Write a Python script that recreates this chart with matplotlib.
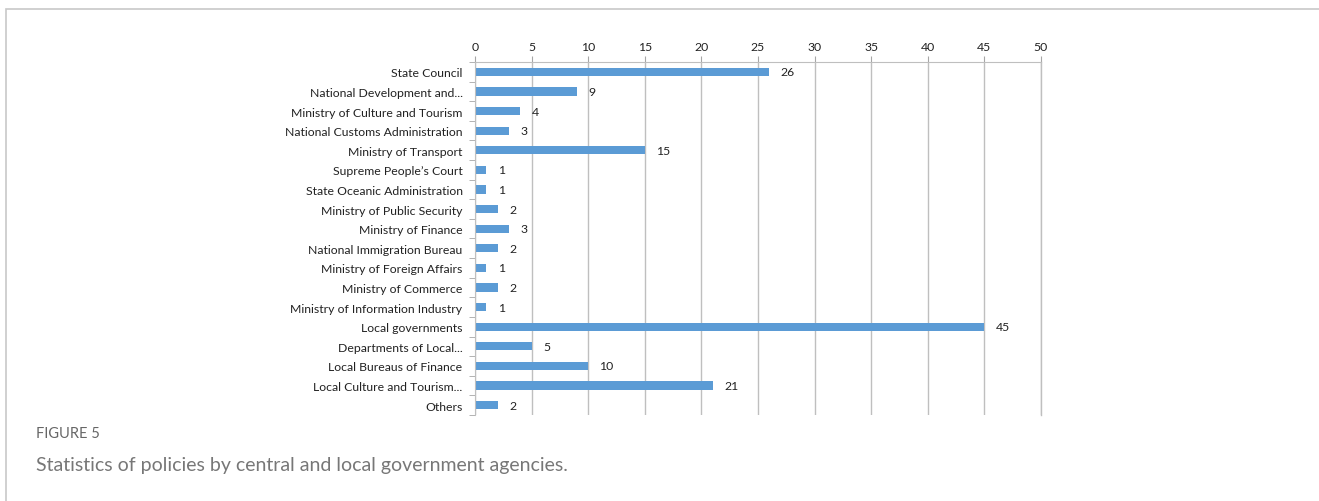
import matplotlib.pyplot as plt
from matplotlib.patches import Rectangle

agencies = ["State Council", "National Development and...", "Ministry of Culture and Tourism",
            "National Customs Administration", "Ministry of Transport", "Supreme People\u2019s Court",
            "State Oceanic Administration", "Ministry of Public Security", "Ministry of Finance",
            "National Immigration Bureau", "Ministry of Foreign Affairs", "Ministry of Commerce",
            "Ministry of Information Industry", "Local governments", "Departments of Local...",
            "Local Bureaus of Finance", "Local Culture and Tourism...", "Others"]
counts = [26, 9, 4, 3, 15, 1, 1, 2, 3, 2, 1, 2, 1, 45, 5, 10, 21, 2]
xticks = list(range(0, 55, 5))

plt.rcParams['font.family'] = ['Lato', 'DejaVu Sans']

fig = plt.figure(figsize=(13.19, 5.02), dpi=100)
W, H = 1319, 502

# outer frame of the figure panel
fig.patches.append(Rectangle((6 / W, -0.1), 1.2, 1 - 9.5 / H + 0.1, transform=fig.transFigure,
                             fill=False, edgecolor='#c8c8c8', linewidth=1.2))

ax = fig.add_axes([475 / W, 1 - 416 / H, (1041 - 475) / W, (416 - 63) / H])
ypos = list(range(len(agencies)))
ax.barh(ypos, counts, height=0.42, color='#5b9bd5')
for y, v in zip(ypos, counts):
    ax.text(v + 1.0, y, str(v), va='center', ha='left', fontsize=8.8, color='#222222')

ax.set_xlim(0, 50)
ax.set_ylim(len(agencies) - 0.5, -0.5)
ax.set_xticks(xticks)
ax.xaxis.tick_top()
ax.tick_params(axis='x', length=4, color='#a6a6a6', labelsize=8.8, pad=3, labelcolor='#222222')
ax.set_yticks(ypos)
ax.set_yticklabels(agencies, fontsize=8.8, color='#222222')
ax.tick_params(axis='y', which='major', length=0, pad=9)
ax.set_yticks([i - 0.5 for i in range(len(agencies) + 1)], minor=True)
ax.tick_params(axis='y', which='minor', length=4, color='#a6a6a6')
ax.grid(axis='x', color='#bfbfbf', linewidth=1)
ax.set_axisbelow(True)
ax.spines['bottom'].set_visible(False)
for s in ['top', 'left', 'right']:
    ax.spines[s].set_color('#bfbfbf')
ax.spines['right'].set_linewidth(1)

fig.text(36 / W, 1 - 434 / H, "FIGURE 5", fontsize=10.5, color='#666666', va='center', ha='left')
fig.text(36 / W, 1 - 466 / H, "Statistics of policies by central and local government agencies.",
         fontsize=14, color='#777777', va='center', ha='left')

fig.savefig('out.png', dpi=100)
